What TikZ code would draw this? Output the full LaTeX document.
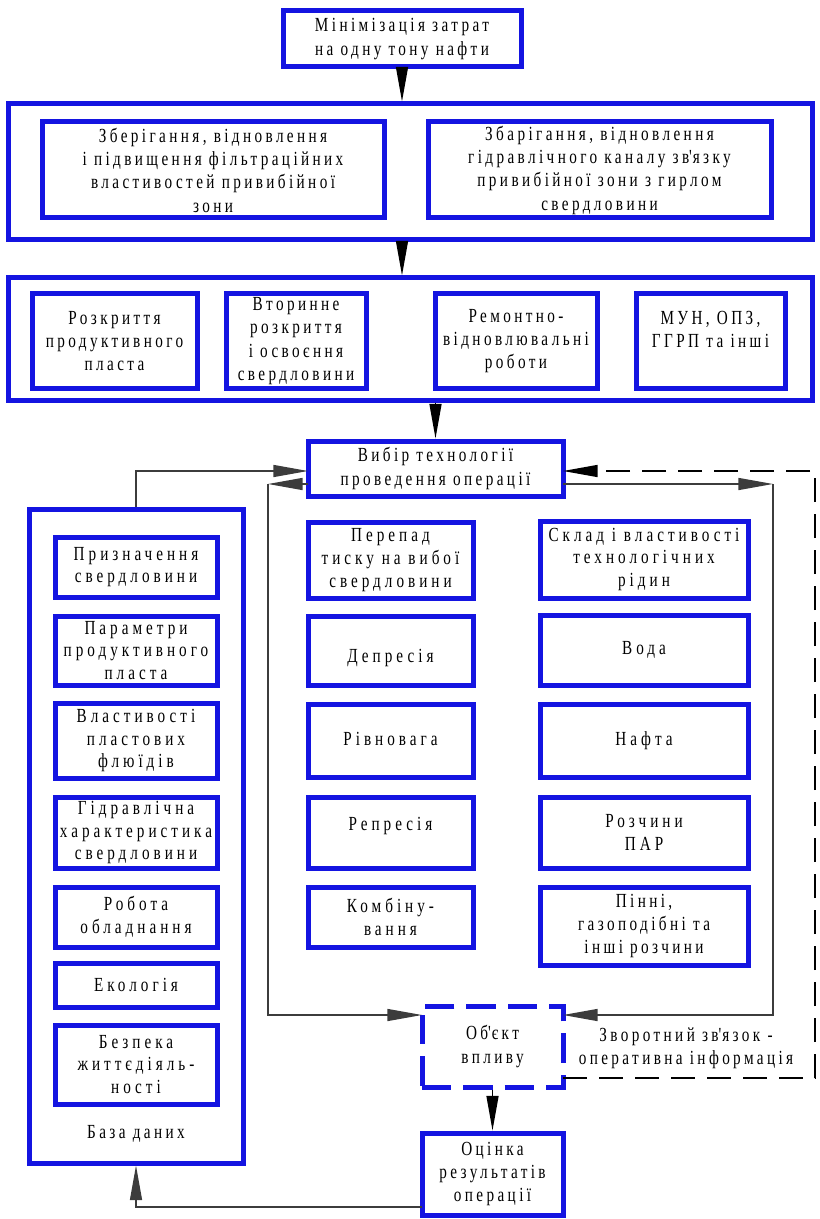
\documentclass[tikz,border=0pt]{standalone}
\usepackage{fontspec}
\setmainfont{Liberation Serif}[FakeStretch=0.76,LetterSpace=17]
\newfontfamily\colfont{Liberation Serif}[FakeStretch=0.76,LetterSpace=20]
\usetikzlibrary{arrows.meta,calc}
\definecolor{myblue}{RGB}{20,20,225}
\definecolor{conn}{RGB}{60,60,60}
\newcommand\placebox[7]{%
  \node[#1, minimum width={(#5-#3)*0.75pt}, minimum height={(#6-#4)*0.75pt}] (#2) at ({(#3+#5)/2},{(#4+#6)/2}) {#7};}
\newcommand\apos{\textquotesingle}
\tikzset{
  box/.style={draw=myblue, line width=3.75pt, align=center, inner sep=0pt,
    font=\fontsize{15}{17.5}\selectfont},
  colbox/.style={box, font=\colfont\fontsize{15}{17}\selectfont},
  dbox/.style={box, dash pattern=on 22pt off 9pt},
  plain/.style={align=center, inner sep=0pt, font=\fontsize{15}{17.5}\selectfont},
  arr/.style={draw=conn, line width=1.1pt, -{Triangle[length=26pt,width=9pt]}},
  darr/.style={arr, draw=black, dash pattern=on 18pt off 9pt}
}
\begin{document}
\begin{tikzpicture}[x=0.75pt,y=-0.75pt]
\useasboundingbox (0,0) rectangle (819,1219);
% top
\placebox{box}{minim}{283}{11}{521}{67}{Мінімізація затрат\\на одну тону нафти}
\placebox{box}{big1}{8}{104}{812}{240}{}
\placebox{box}{in1a}{42}{122}{384}{218}{Зберігання, відновлення\\і підвищення фільтраційних\\властивостей привибійної\\зони}
\placebox{box}{in1b}{428}{122}{771}{218}{Збарігання, відновлення\\гідравлічного каналу зв\apos язку\\привибійної зони з гирлом\\свердловини}
\placebox{box}{big2}{8}{278}{812}{400}{}
\placebox{box}{b2a}{32}{294}{197}{388}{Розкриття\\продуктивного\\пласта}
\placebox{box}{b2b}{226}{294}{366}{388}{Вторинне\\розкриття\\і освоєння\\свердловини}
\placebox{box}{b2c}{435}{294}{597}{388}{Ремонтно-\\відновлювальні\\роботи}
\placebox{box}{b2d}{636}{294}{785}{388}{МУН, ОПЗ,\\ГГРП та інші\\\mbox{}}
\placebox{box}{vybir}{308}{441}{563}{496}{Вибір технології\\проведення операції}
% data base
\placebox{box}{db}{29}{509}{243}{1163}{}
\placebox{colbox}{d1}{55}{537}{217}{597}{Призначення\\свердловини}
\placebox{colbox}{d2}{55}{616}{217}{685}{Параметри\\продуктивного\\пласта}
\placebox{colbox}{d3}{55}{703}{217}{778}{Властивості\\пластових\\флюїдів}
\placebox{colbox}{d4}{55}{797}{217}{868}{Гідравлічна\\характеристика\\свердловини}
\placebox{colbox}{d5}{55}{887}{217}{947}{Робота\\обладнання}
\placebox{colbox}{d6}{55}{963}{217}{1007}{Екологія}
\placebox{colbox}{d7}{55}{1025}{217}{1104}{Безпека\\життєдіяль-\\ності}
\node[plain] (dblabel) at (136,1134) {База даних};
% middle column
\placebox{colbox}{m1}{308}{522}{473}{598}{Перепад\\тиску на вибої\\свердловини}
\placebox{colbox}{m2}{308}{616}{473}{685}{\mbox{}\\[4pt]Депресія}
\placebox{colbox}{m3}{308}{704}{473}{777}{\mbox{}\\[-10pt]Рівновага}
\placebox{colbox}{m4}{308}{797}{473}{868}{Репресія\\[-4pt]\mbox{}}
\placebox{colbox}{m5}{308}{887}{473}{947}{Комбіну-\\вання}
% right column
\placebox{colbox}{r1}{540}{521}{748}{598}{Склад і властивості\\технологічних\\рідин}
\placebox{colbox}{r2}{540}{615}{748}{685}{Вода}
\placebox{colbox}{r3}{540}{704}{748}{777}{Нафта}
\placebox{colbox}{r4}{540}{797}{748}{868}{Розчини\\ПАР}
\placebox{box}{r5}{540}{887}{748}{965}{Пінні,\\газоподібні та\\інші розчини}
% bottom
\placebox{dbox}{obj}{422}{1006}{563}{1087}{Об\apos єкт\\впливу}
\placebox{box}{ocin}{422}{1133}{563}{1215}{Оцінка\\результатів\\операції}
\node[plain] (fb) at (686,1048) {Зворотний зв\apos язок -\\оперативна інформація};
% coordinates
\coordinate (vwt) at (308,471);
\coordinate (vwb) at (308,484);
\coordinate (vet) at (563,471);
\coordinate (veb) at (563,484);
\coordinate (lc) at (268,484);
\coordinate (rc) at (773,484);
\coordinate (ow) at (422,1015);
\coordinate (oe) at (563,1015);
\coordinate (oed) at (563,1078);
\coordinate (dc) at (815,471);
\coordinate (ocw) at (422,1207);
% connectors
\draw[arr,draw=black] (minim.south) -- (minim.south |- big1.north);
\draw[arr,draw=black] (minim.south |- big1.south) -- (minim.south |- big2.north);
\draw[arr,draw=black] (vybir.north |- big2.south) -- (vybir.north);
\draw[arr] (db.north) |- (vwt);
\draw[arr] (vwb) -- (lc);
\draw[arr] (lc) |- (ow);
\draw[arr] (veb) -- (rc);
\draw[arr] (rc) |- (oe);
\draw[darr] (oed) -| (dc) -- (vet);
\draw[arr,draw=black] (obj.south) -- (ocin.north);
\draw[arr] (ocw) -| (db.south);
\end{tikzpicture}
\end{document}
